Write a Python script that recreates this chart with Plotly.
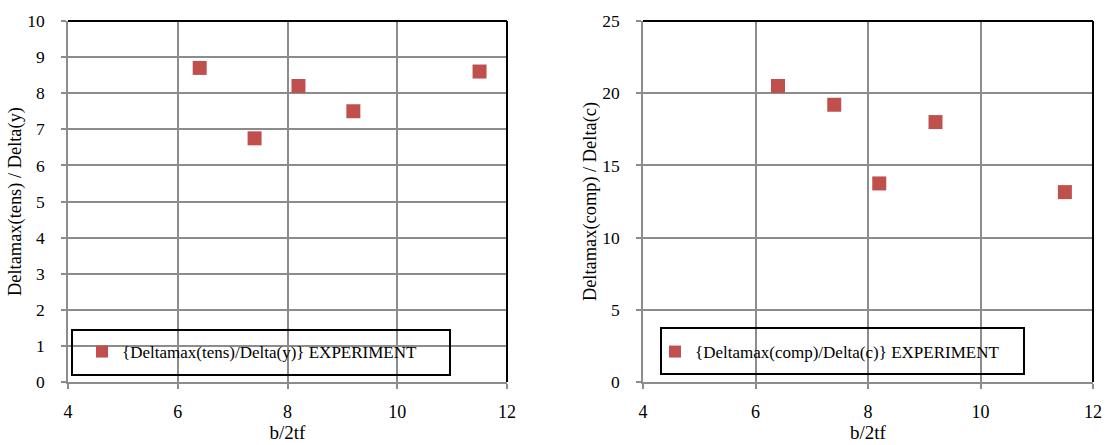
import plotly.graph_objects as go

# Data
b_2tf = [6.4, 7.4, 8.2, 9.2, 11.5]
ratio_tens = [8.7, 6.75, 8.2, 7.5, 8.6]
ratio_comp = [20.5, 19.2, 13.75, 18.0, 13.15]
name_tens = "{Deltamax(tens)/Delta(y)} EXPERIMENT"
name_comp = "{Deltamax(comp)/Delta(c)} EXPERIMENT"
x_title = "b/2tf"
y_title_tens = "Deltamax(tens) / Delta(y)"
y_title_comp = "Deltamax(comp) / Delta(c)"

W, H = 1105, 445
FONT = "Liberation Serif, Times New Roman, serif"
RED = "#C0504D"
GRID = "#8C8C8C"

fig = go.Figure()
fig.add_trace(go.Scatter(x=b_2tf, y=ratio_tens, mode="markers", name=name_tens,
                         marker=dict(symbol="square", size=14, color=RED),
                         xaxis="x", yaxis="y", legend="legend"))
fig.add_trace(go.Scatter(x=b_2tf, y=ratio_comp, mode="markers", name=name_comp,
                         marker=dict(symbol="square", size=14, color=RED),
                         xaxis="x2", yaxis="y2", legend="legend2"))

# pixel geometry
L1, R1 = 68, 507
L2, R2 = 643, 1093
T, B = 21, 382

def px_x(p):
    return p / W

def px_y(p):
    return 1 - p / H

def f(size):
    return dict(family=FONT, size=size, color="black")

common_x = dict(range=[4, 12], dtick=2, showgrid=True, gridcolor=GRID, gridwidth=1.5,
                showline=True, linecolor=GRID, linewidth=1.5, ticks="outside",
                ticklen=5, tickcolor=GRID, tickwidth=1.5, zeroline=False,
                automargin=False, ticklabelstandoff=8,
                tickfont=f(18),
                title=dict(text=x_title, font=f(19), standoff=4))
common_y = dict(showgrid=True, gridcolor=GRID, gridwidth=1.5,
                showline=True, linecolor=GRID, linewidth=1.5, ticks="outside",
                ticklen=5, tickcolor=GRID, tickwidth=1.5, zeroline=False,
                automargin=False, ticklabelstandoff=13,
                tickfont=f(17.5))

fig.update_layout(
    width=W, height=H,
    margin=dict(l=0, r=0, t=0, b=0),
    paper_bgcolor="white", plot_bgcolor="white",
    template="none",
    xaxis=dict(domain=[px_x(L1), px_x(R1)], anchor="y", **common_x),
    yaxis=dict(domain=[px_y(B), px_y(T)], anchor="x", range=[0, 10], dtick=1,
               title=dict(text=y_title_tens, font=f(18.4), standoff=1),
               **common_y),
    xaxis2=dict(domain=[px_x(L2), px_x(R2)], anchor="y2", **common_x),
    yaxis2=dict(domain=[px_y(B), px_y(T)], anchor="x2", range=[0, 25], dtick=5,
                title=dict(text=y_title_comp, font=f(18.4), standoff=1),
                **common_y),
    legend=dict(x=82 / W, y=px_y(352), xanchor="left", yanchor="middle",
                bgcolor="rgba(0,0,0,0)", borderwidth=0, itemsizing="constant",
                font=f(17)),
    legend2=dict(x=655 / W, y=px_y(352), xanchor="left", yanchor="middle",
                 bgcolor="rgba(0,0,0,0)", borderwidth=0, itemsizing="constant",
                 font=f(17)),
    showlegend=True,
)

# top/right black borders and legend boxes
shapes = []
for xd, yd in (("x domain", "y domain"), ("x2 domain", "y2 domain")):
    shapes.append(dict(type="line", xref=xd, yref=yd, x0=0, x1=1, y0=1, y1=1,
                       line=dict(color="black", width=2)))
    shapes.append(dict(type="line", xref=xd, yref=yd, x0=1, x1=1, y0=0, y1=1,
                       line=dict(color="black", width=2)))
for x0, x1, y0, y1 in ((72, 450, 330, 375), (661, 1024, 328, 374)):
    shapes.append(dict(type="rect", xref="paper", yref="paper",
                       x0=x0 / W, x1=x1 / W, y0=px_y(y1), y1=px_y(y0),
                       line=dict(color="black", width=2), fillcolor="rgba(0,0,0,0)"))
fig.update_layout(shapes=shapes)

fig.write_html("out.html", config={"displayModeBar": False},
               post_script="document.body.style.margin='0px';document.body.style.overflow='hidden';")
